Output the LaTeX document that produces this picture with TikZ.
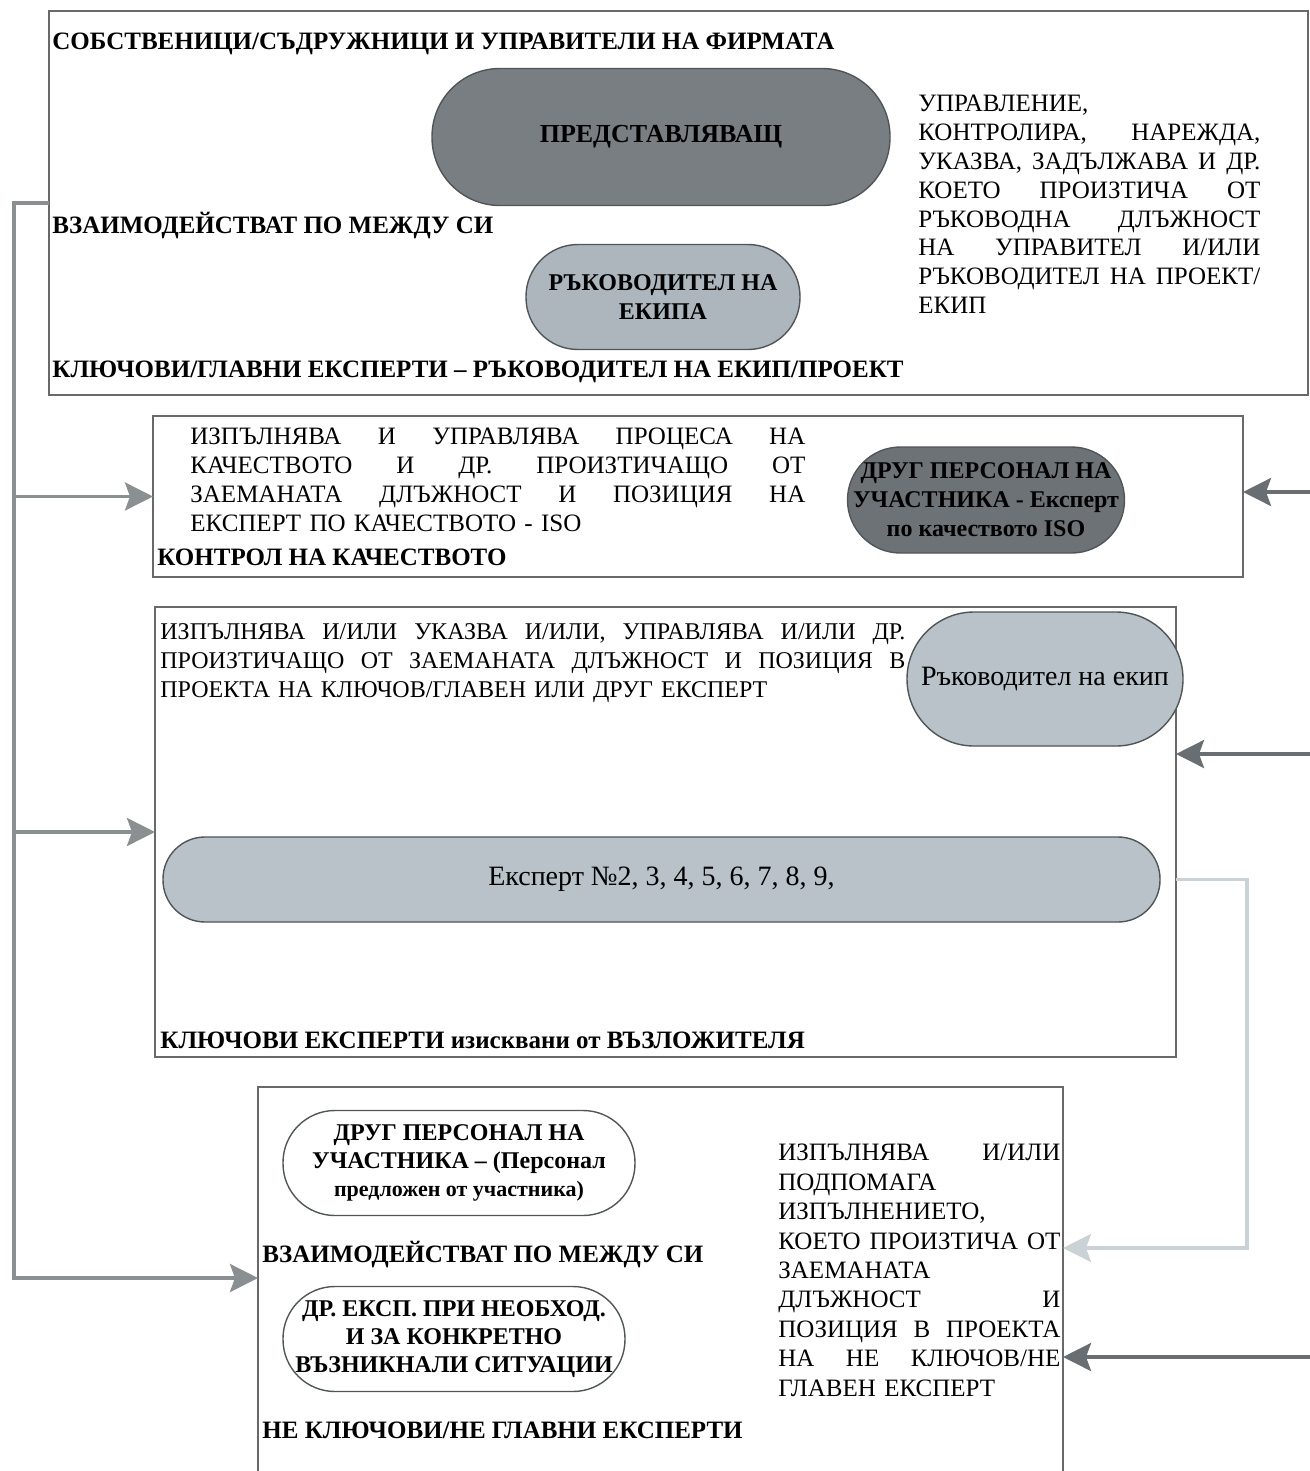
\documentclass[tikz,border=0pt]{standalone}
\usepackage{fontspec}
\setmainfont{Liberation Serif}
\usetikzlibrary{positioning, arrows.meta}

\definecolor{framegray}{RGB}{105,105,105}
\definecolor{pillline}{RGB}{80,85,88}
\definecolor{darkpill}{RGB}{120,126,130}
\definecolor{darkerpill}{RGB}{108,114,118}
\definecolor{midpill}{RGB}{172,182,188}
\definecolor{lightpill}{RGB}{184,194,200}
\definecolor{trunkgray}{RGB}{138,144,146}
\definecolor{feedgray}{RGB}{104,110,114}
\definecolor{paleline}{RGB}{202,210,214}

% justified line of a text block
\newcommand{\jl}[1]{\makebox[\hsize][s]{\spaceskip=0.3333em plus 1fil\relax #1}}

\tikzset{
  frame/.style={draw=framegray, line width=0.9pt, inner sep=0pt, outer sep=0pt, anchor=north west},
  pill/.style={rectangle, rounded corners=#1, draw=pillline, line width=0.7pt, inner sep=1pt, align=center,
    font=\bfseries\fontsize{12}{14.5}\selectfont},
  lbl/.style={anchor=west, inner sep=0pt, font=\bfseries\fontsize{12.5}{15}\selectfont},
  txt/.style={anchor=north west, inner sep=0pt, align=left},
  trunk/.style={draw=trunkgray, line width=1.8pt, -{Stealth[length=14pt, width=14pt, inset=2.5pt]}},
  feed/.style={draw=feedgray, line width=1.8pt, -{Stealth[length=14pt, width=14pt, inset=2.5pt]}},
  pale/.style={draw=paleline, line width=1.6pt, -{Stealth[length=14pt, width=14pt, inset=2.5pt]}},
}

\begin{document}
\begin{tikzpicture}[x=0.5pt, y=-0.5pt]
  \useasboundingbox (0,0) rectangle (1310,1471);

  % frames
  \node[frame, minimum width=629.5pt, minimum height=192pt] (sobst) at (49,11) {};
  \node[frame, minimum width=545pt, minimum height=80.5pt] (kach) at (153,416) {};
  \node[frame, minimum width=510.5pt, minimum height=225pt] (klyuch) at (155,607) {};
  \coordinate (b4top) at (258,1087);
  \coordinate (b4bot) at (1063,1471);
  \draw[draw=framegray, line width=0.9pt] (b4top |- b4bot) -- (b4top) -| (b4bot);

  % top frame
  \node[lbl] (t1) at (52,44) {СОБСТВЕНИЦИ/СЪДРУЖНИЦИ И УПРАВИТЕЛИ НА ФИРМАТА};
  \node[pill=34pt, fill=darkpill, minimum width=229pt, minimum height=68.5pt, font=\bfseries\fontsize{13}{15}\selectfont] (predst) at (661,137) {ПРЕДСТАВЛЯВАЩ};
  \node[lbl] (t2) at (52,226) {ВЗАИМОДЕЙСТВАТ ПО МЕЖДУ СИ};
  \node[pill=26pt, fill=midpill, minimum width=137pt, minimum height=52.5pt] (rukekipa) at (663,297) {РЪКОВОДИТЕЛ НА\\ЕКИПА};
  \node[lbl] (t3) at (52,372) {КЛЮЧОВИ/ГЛАВНИ ЕКСПЕРТИ – РЪКОВОДИТЕЛ НА ЕКИП/ПРОЕКТ};
  \node[txt, text width=171pt, font=\fontsize{12.5}{14.4}\selectfont] (upr) at (918,95) {%
    УПРАВЛЕНИЕ,\\
    \jl{КОНТРОЛИРА, НАРЕЖДА,}\\
    \jl{УКАЗВА, ЗАДЪЛЖАВА И ДР.}\\
    \jl{КОЕТО ПРОИЗТИЧА ОТ}\\
    \jl{РЪКОВОДНА ДЛЪЖНОСТ}\\
    \jl{НА УПРАВИТЕЛ И/ИЛИ}\\
    \jl{РЪКОВОДИТЕЛ НА ПРОЕКТ/}\\
    ЕКИП};

  % quality frame
  \node[txt, text width=307.5pt, font=\fontsize{12.5}{14.5}\selectfont] (kachtxt) at (190,428) {%
    \jl{ИЗПЪЛНЯВА И УПРАВЛЯВА ПРОЦЕСА НА}\\
    \jl{КАЧЕСТВОТО И ДР. ПРОИЗТИЧАЩО ОТ}\\
    \jl{ЗАЕМАНАТА ДЛЪЖНОСТ И ПОЗИЦИЯ НА}\\
    ЕКСПЕРТ ПО КАЧЕСТВОТО - ISO};
  \node[lbl] (t4) at (157,557) {КОНТРОЛ НА КАЧЕСТВОТО};
  \node[pill=26.5pt, fill=darkerpill, minimum width=138.5pt, minimum height=53pt] (drugiso) at (986,500)
    {ДРУГ ПЕРСОНАЛ НА\\УЧАСТНИКА - Експерт\\по качеството ISO};

  % key experts frame
  \node[pill=33.5pt, fill=lightpill, minimum width=138pt, minimum height=67pt, font=\fontsize{14}{16}\selectfont] (rukekip) at (1045,679) {Ръководител на екип};
  \node[txt, text width=372.5pt, font=\fontsize{12}{14.5}\selectfont] (klyuchtxt) at (160,623) {%
    \jl{ИЗПЪЛНЯВА И/ИЛИ УКАЗВА И/ИЛИ, УПРАВЛЯВА И/ИЛИ ДР.}\\
    \jl{ПРОИЗТИЧАЩО ОТ ЗАЕМАНАТА ДЛЪЖНОСТ И ПОЗИЦИЯ В}\\
    ПРОЕКТА НА КЛЮЧОВ/ГЛАВЕН ИЛИ ДРУГ ЕКСПЕРТ};
  \node[pill=21pt, fill=lightpill, minimum width=498.5pt, minimum height=42.5pt, font=\fontsize{14}{16}\selectfont] (ekspert) at (661.5,879.5) {Експерт №2, 3, 4, 5, 6, 7, 8, 9,};
  \node[lbl] (t5) at (160,1040) {КЛЮЧОВИ ЕКСПЕРТИ изисквани от ВЪЗЛОЖИТЕЛЯ};

  % non-key experts frame
  \node[pill=26pt, fill=white, minimum width=176pt, minimum height=52.5pt, font=\bfseries\fontsize{12}{14}\selectfont] (drugpers) at (459,1163)
    {ДРУГ ПЕРСОНАЛ НА\\УЧАСТНИКА – (Персонал\\{\fontsize{11}{14}\selectfont предложен от участника)}};
  \node[lbl] (t6) at (262,1255) {ВЗАИМОДЕЙСТВАТ ПО МЕЖДУ СИ};
  \node[pill=26pt, fill=white, minimum width=171pt, minimum height=52.5pt, font=\bfseries\fontsize{12}{14}\selectfont] (drugeksp) at (454,1339)
    {ДР. ЕКСП. ПРИ НЕОБХОД.\\И ЗА КОНКРЕТНО\\ВЪЗНИКНАЛИ СИТУАЦИИ};
  \node[lbl] (t7) at (262,1430) {НЕ КЛЮЧОВИ/НЕ ГЛАВНИ ЕКСПЕРТИ};
  \node[txt, text width=141pt, font=\fontsize{12.5}{14.7}\selectfont] (izp) at (778,1144) {%
    \jl{ИЗПЪЛНЯВА И/ИЛИ}\\
    ПОДПОМАГА\\
    ИЗПЪЛНЕНИЕТО,\\
    \jl{КОЕТО ПРОИЗТИЧА ОТ}\\
    ЗАЕМАНАТА\\
    \jl{ДЛЪЖНОСТ И}\\
    \jl{ПОЗИЦИЯ В ПРОЕКТА}\\
    \jl{НА НЕ КЛЮЧОВ/НЕ}\\
    ГЛАВЕН ЕКСПЕРТ};

  % connectors on the left
  \coordinate (trunkbot) at (14,1278);
  \coordinate (b4in) at (258,1278);
  \draw[trunk] (sobst.west) -| (trunkbot) -- (b4in);
  \draw[trunk] (trunkbot |- kach.west) -- (kach.west);
  \draw[trunk] (trunkbot |- klyuch.west) -- (klyuch.west);

  % connectors on the right
  \coordinate (r2) at (1310,492);
  \coordinate (r3) at (1310,754);
  \coordinate (r4) at (1310,1357);
  \coordinate (bend) at (1247,1248);
  \draw[feed] (r2) -- (r2 -| kach.east);
  \draw[feed] (r3) -- (r3 -| klyuch.east);
  \draw[feed] (r4) -- (r4 -| b4bot);
  \draw[pale] (ekspert.east -| klyuch.east) -| (bend) -- (bend -| b4bot);
\end{tikzpicture}
\end{document}
